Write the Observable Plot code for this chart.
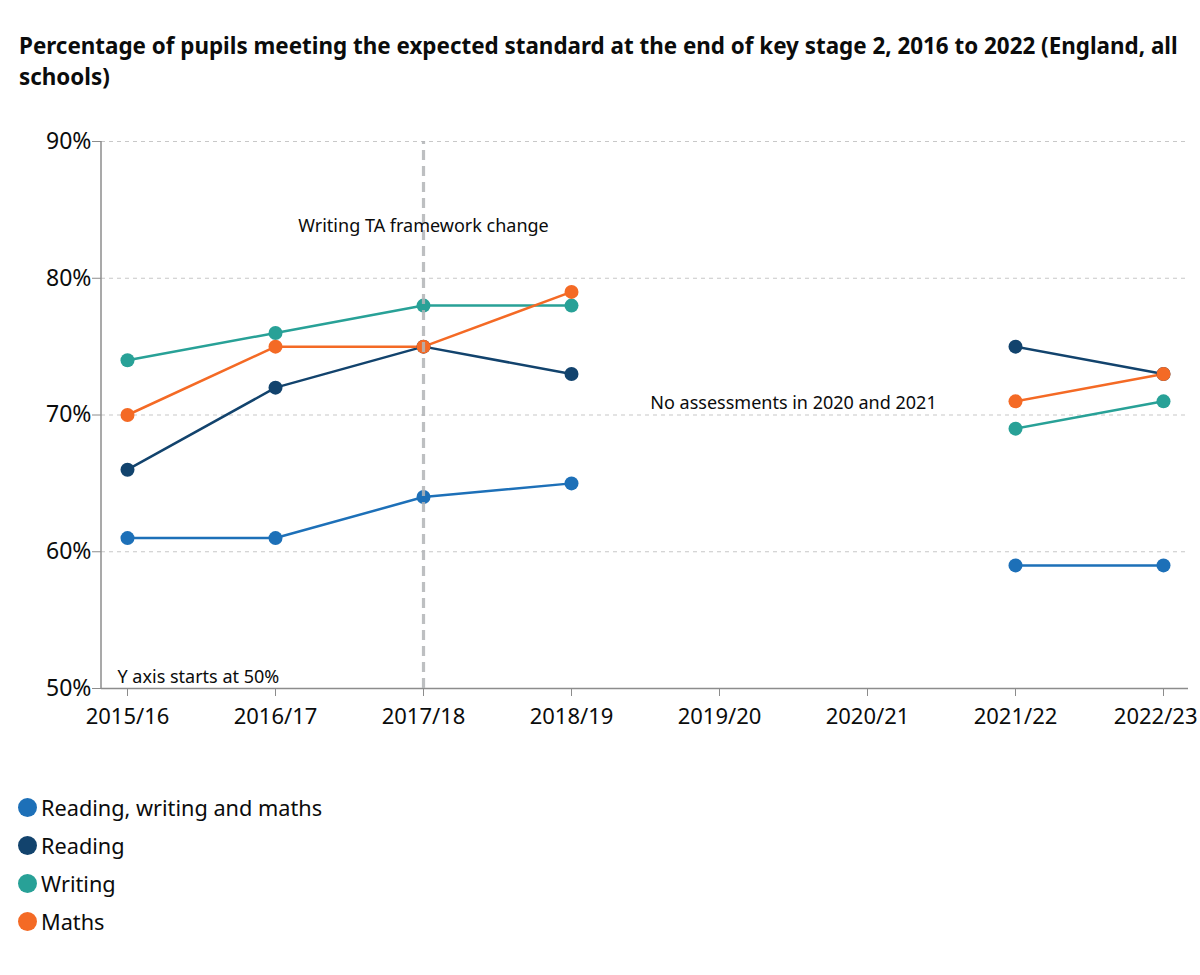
<!DOCTYPE html>
<html>
<head>
<meta charset="utf-8">
<script src="https://cdn.jsdelivr.net/npm/d3@7"></script>
<script src="https://cdn.jsdelivr.net/npm/@observablehq/plot@0.6"></script>
<style>
  body { margin: 0; background: #fff; font-family: "Noto Sans", sans-serif; color: #0b0c0c; }
  #title { margin: 30px 0 0 19px; width: 1170px; font-weight: 700; font-size: 22.4px; line-height: 31px; }
  #chart { margin-top: 8px; height: 640px; }
  #chart svg { display: block; }
  #legend { margin-top: 48px; margin-left: 18px; }
  .item { display: flex; align-items: center; height: 38px; font-size: 21.7px; }
  .sw { width: 19px; height: 19px; border-radius: 50%; margin-right: 4px; }
</style>
</head>
<body>
<div id="title">Percentage of pupils meeting the expected standard at the end of key stage 2, 2016 to 2022 (England, all schools)</div>
<div id="chart"></div>
<div id="legend"></div>
<script>
const years = ["2015/16", "2016/17", "2017/18", "2018/19", "2019/20", "2020/21", "2021/22", "2022/23"];
const seriesNames = ["Reading, writing and maths", "Reading", "Writing", "Maths"];
const seriesColors = ["#1d70b8", "#12436d", "#28a197", "#f46a25"];
const rwm     = [61, 61, 64, 65, null, null, 59, 59];
const reading = [66, 72, 75, 73, null, null, 75, 73];
const writing = [74, 76, 78, 78, null, null, 69, 71];
const maths   = [70, 75, 75, 79, null, null, 71, 73];
const yTicks = [50, 60, 70, 80, 90];
const gridTicks = [60, 70, 80, 90];
const changeYear = "2017/18";
const annotations = [
  {year: "2017/18", value: 83.8, label: "Writing TA framework change", kind: "top"},
  {year: "2019/20", value: 70.85, label: "No assessments in 2020 and 2021", kind: "gap"},
  {year: "2015/16", value: 50, label: "Y axis starts at 50%", kind: "base"}
];

const seriesValues = [rwm, reading, writing, maths];
const data = [];
seriesNames.forEach((s, i) => {
  years.forEach((y, j) => data.push({series: s, year: y, value: seriesValues[i][j]}));
});
const pts = data.filter(d => d.value != null);
const lastYear = years[years.length - 1];

const W = 1200, H = 640, ML = 101, MR = 12, MT = 41, MB = 52;
const fontFam = "Noto Sans, sans-serif";

const chart = Plot.plot({
  width: W, height: H,
  marginLeft: ML, marginRight: MR, marginTop: MT, marginBottom: MB,
  style: {fontFamily: fontFam, fontSize: "22px", color: "#0b0c0c", background: "#fff", overflow: "visible"},
  x: {type: "point", domain: years, padding: 0.17, label: null},
  y: {domain: [50, 90], label: null},
  color: {domain: seriesNames, range: seriesColors},
  marks: [
    Plot.ruleY(gridTicks, {stroke: "#c8c8c8", strokeWidth: 1.2, strokeDasharray: "4,4"}),
    Plot.axisY({ticks: yTicks, tickFormat: d => d + "%", tickSize: 9, tickPadding: 1, fontSize: 23, stroke: "#8c8c8c", fill: "#0b0c0c", label: null}),
    Plot.axisX({tickSize: 8, tickPadding: 12, tickFormat: d => d === lastYear ? "" : d, stroke: "#8c8c8c", fill: "#0b0c0c", label: null}),
    Plot.axisX([lastYear], {tickSize: 0, tickPadding: 20, textAnchor: "end", dx: 34, stroke: "#8c8c8c", fill: "#0b0c0c", label: null}),
    Plot.ruleY([50], {stroke: "#8c8c8c", strokeWidth: 1.5}),
    Plot.line(data, {x: "year", y: "value", z: "series", stroke: "series", strokeWidth: 2.5}),
    Plot.dot(pts, {x: "year", y: "value", fill: "series", r: 7}),
    Plot.ruleX([changeYear], {y1: 50, y2: 90, stroke: "#b1b4b6", strokeWidth: 3.2, strokeDasharray: "10,6", strokeOpacity: 0.85}),
    Plot.text(annotations.filter(a => a.kind === "top"), {x: "year", y: "value", text: "label", fontSize: 18, fill: "#0b0c0c"}),
    Plot.text(annotations.filter(a => a.kind === "gap"), {x: "year", y: "value", text: "label", dx: 74, fontSize: 18, fill: "#0b0c0c"}),
    Plot.text(annotations.filter(a => a.kind === "base"), {x: "year", y: "value", text: "label", dx: -10, dy: -11, textAnchor: "start", fontSize: 18, fill: "#0b0c0c"})
  ]
});

// y-axis domain line at the left edge of the frame
const ys = chart.scale("y");
d3.select(chart).append("line")
  .attr("x1", ML).attr("x2", ML)
  .attr("y1", ys.apply(90)).attr("y2", ys.apply(50))
  .attr("stroke", "#8c8c8c").attr("stroke-width", 1.5);

document.getElementById("chart").appendChild(chart);

const legend = d3.select("#legend");
seriesNames.forEach((s, i) => {
  const it = legend.append("div").attr("class", "item");
  it.append("div").attr("class", "sw").style("background", seriesColors[i]);
  it.append("span").text(s);
});
</script>
</body>
</html>
